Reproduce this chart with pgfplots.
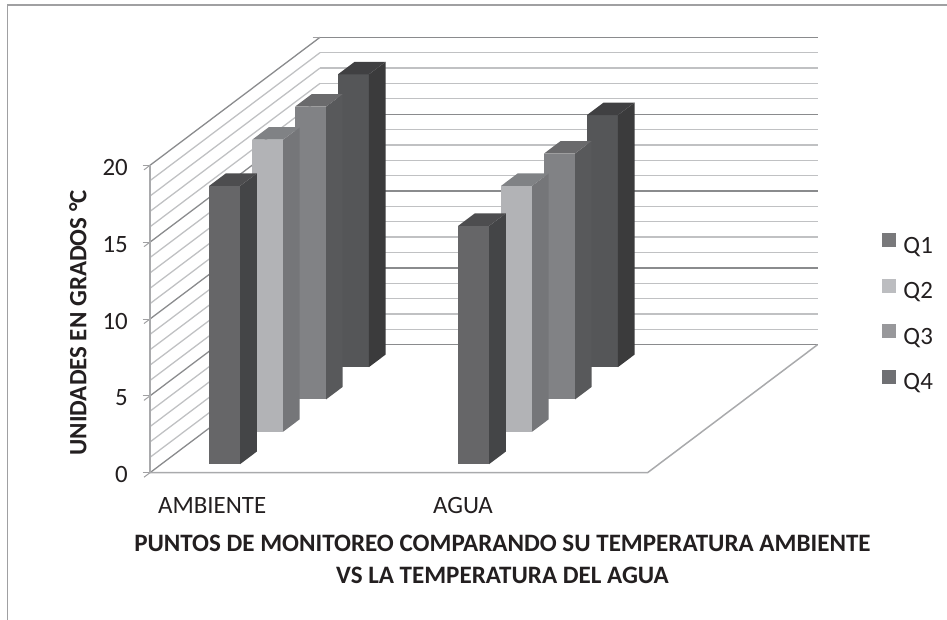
\documentclass[border=0pt]{standalone}
\usepackage{fontspec}
\setmainfont{Carlito}
\usepackage{pgfplots}
\pgfplotsset{compat=1.18}
\definecolor{txt}{HTML}{231F20}
\definecolor{gridminor}{HTML}{C0C1C3}
\definecolor{gridmajor}{HTML}{8A8B8D}
\definecolor{floorline}{HTML}{A9AAAC}
\definecolor{frameline}{HTML}{A0A0A2}
% faces of the four series: front, side, top
\definecolor{qoneF}{HTML}{666668}\definecolor{qoneS}{HTML}{444547}\definecolor{qoneT}{HTML}{4D4D4F}
\definecolor{qtwoF}{HTML}{B2B3B6}\definecolor{qtwoS}{HTML}{757679}\definecolor{qtwoT}{HTML}{808285}
\definecolor{qthrF}{HTML}{818285}\definecolor{qthrS}{HTML}{58595B}\definecolor{qthrT}{HTML}{6A6A6C}
\definecolor{qfouF}{HTML}{555658}\definecolor{qfouS}{HTML}{3B3B3C}\definecolor{qfouT}{HTML}{404042}
% legend swatches
\definecolor{keyone}{HTML}{79797B}\definecolor{keytwo}{HTML}{BCBDC0}
\definecolor{keythr}{HTML}{98989B}\definecolor{keyfou}{HTML}{6F7073}
% one block: x from, x to, depth from, depth to, temperature, three face colours
\newcommand{\tempbar}[8]{%
  \addplot3[fill=#6,draw=none,forget plot] coordinates {(#1,#3,0)(#2,#3,0)(#2,#3,#5)(#1,#3,#5)};
  \addplot3[fill=#7,draw=none,forget plot] coordinates {(#2,#3,0)(#2,#4,0)(#2,#4,#5)(#2,#3,#5)};
  \addplot3[fill=#8,draw=none,forget plot] coordinates {(#1,#3,#5)(#2,#3,#5)(#2,#4,#5)(#1,#4,#5)};
}
\begin{document}
\begin{tikzpicture}[x=1bp,y=1bp]
\path[use as bounding box] (0,0) rectangle (947,-620);
\draw[frameline,line width=1.6bp] (7.5,-620) -- (7.5,-5) -- (947,-5);
\begin{axis}[
  at={(150bp,-472.7bp)},anchor=origin,
  x={(248.75bp,0bp)},y={(42.5bp,32bp)},z={(0bp,15.37bp)},
  xmin=0,xmax=2,ymin=0,ymax=4,zmin=0,zmax=20,
  clip=false,
  axis line style={draw=none},
  xtick={0.25,1.258},xticklabels={AMBIENTE,AGUA},
  ytick=\empty,
  ztick={0,5,10,15,20},
  minor z tick num=4,
  zmajorgrids,zminorgrids,
  major z grid style={gridmajor,line width=1.3bp},
  minor z grid style={gridminor,line width=1.3bp},
  minor tick length=0pt,
  x tick style={draw=none},
  z tick style={frameline,line width=1bp},
  major tick length=7.5bp,
  tick align=outside,
  ztick pos=left,
  zticklabel pos=left,
  /pgf/number format/assume math mode=true,
  ticklabel style={font=\fontsize{25}{28}\selectfont,text=txt},
  z tick label style={anchor=east,xshift=-16bp,inner sep=0pt,yshift=2.3bp},
  x tick label style={anchor=center,inner sep=0pt,xshift=6bp,yshift=-28bp},
  xlabel={PUNTOS DE MONITOREO COMPARANDO SU TEMPERATURA AMBIENTE\\VS LA TEMPERATURA DEL AGUA},
  xlabel style={at={(axis cs:1.417,0,-4.03)},anchor=north,align=center,inner sep=0pt,
    font=\fontsize{25.15}{32}\selectfont\bfseries,text=txt},
  zlabel={UNIDADES EN GRADOS °C},
  zlabel style={at={(axis cs:-0.29,0,9.75)},anchor=center,rotate=0,inner sep=0pt,
    font=\fontsize{25}{28}\selectfont\bfseries,text=txt},
  legend style={at={(axis cs:2.943,0,10.3)},anchor=west,draw=none,fill=none,
    row sep=19.5bp,font=\fontsize{25}{28}\selectfont,text=txt,
    inner sep=0pt,nodes={inner sep=0pt,text=txt,text height=16bp,text depth=6bp}},
  legend cell align=left,
  legend image code/.code={\fill[#1,draw=none] (0bp,1bp) rectangle (14bp,15bp);\path (21bp,0bp);},
]
% floor edges and the vertical axis
\addplot3[floorline,line width=1.5bp,forget plot] coordinates {(0,0,0)(2,0,0)(2,4,0)};
\addplot3[floorline,line width=1.3bp,forget plot] coordinates {(0,0,0)(0,0,20)};
% AMBIENTE, back to front
\tempbar{0.192}{0.3165}{3.30}{3.69}{19.05}{qfouF}{qfouS}{qfouT}
\tempbar{0.192}{0.3165}{2.29}{2.68}{19.05}{qthrF}{qthrS}{qthrT}
\tempbar{0.192}{0.3165}{1.28}{1.67}{19.0}{qtwoF}{qtwoS}{qtwoT}
\tempbar{0.192}{0.3165}{0.27}{0.66}{18.1}{qoneF}{qoneS}{qoneT}
% AGUA, back to front
\tempbar{1.193}{1.3175}{3.30}{3.69}{16.4}{qfouF}{qfouS}{qfouT}
\tempbar{1.193}{1.3175}{2.29}{2.68}{16.0}{qthrF}{qthrS}{qthrT}
\tempbar{1.193}{1.3175}{1.28}{1.67}{16.0}{qtwoF}{qtwoS}{qtwoT}
\tempbar{1.193}{1.3175}{0.27}{0.66}{15.5}{qoneF}{qoneS}{qoneT}
\addlegendimage{fill=keyone}\addlegendentry{Q1}
\addlegendimage{fill=keytwo}\addlegendentry{Q2}
\addlegendimage{fill=keythr}\addlegendentry{Q3}
\addlegendimage{fill=keyfou}\addlegendentry{Q4}
\end{axis}
\end{tikzpicture}
\end{document}
